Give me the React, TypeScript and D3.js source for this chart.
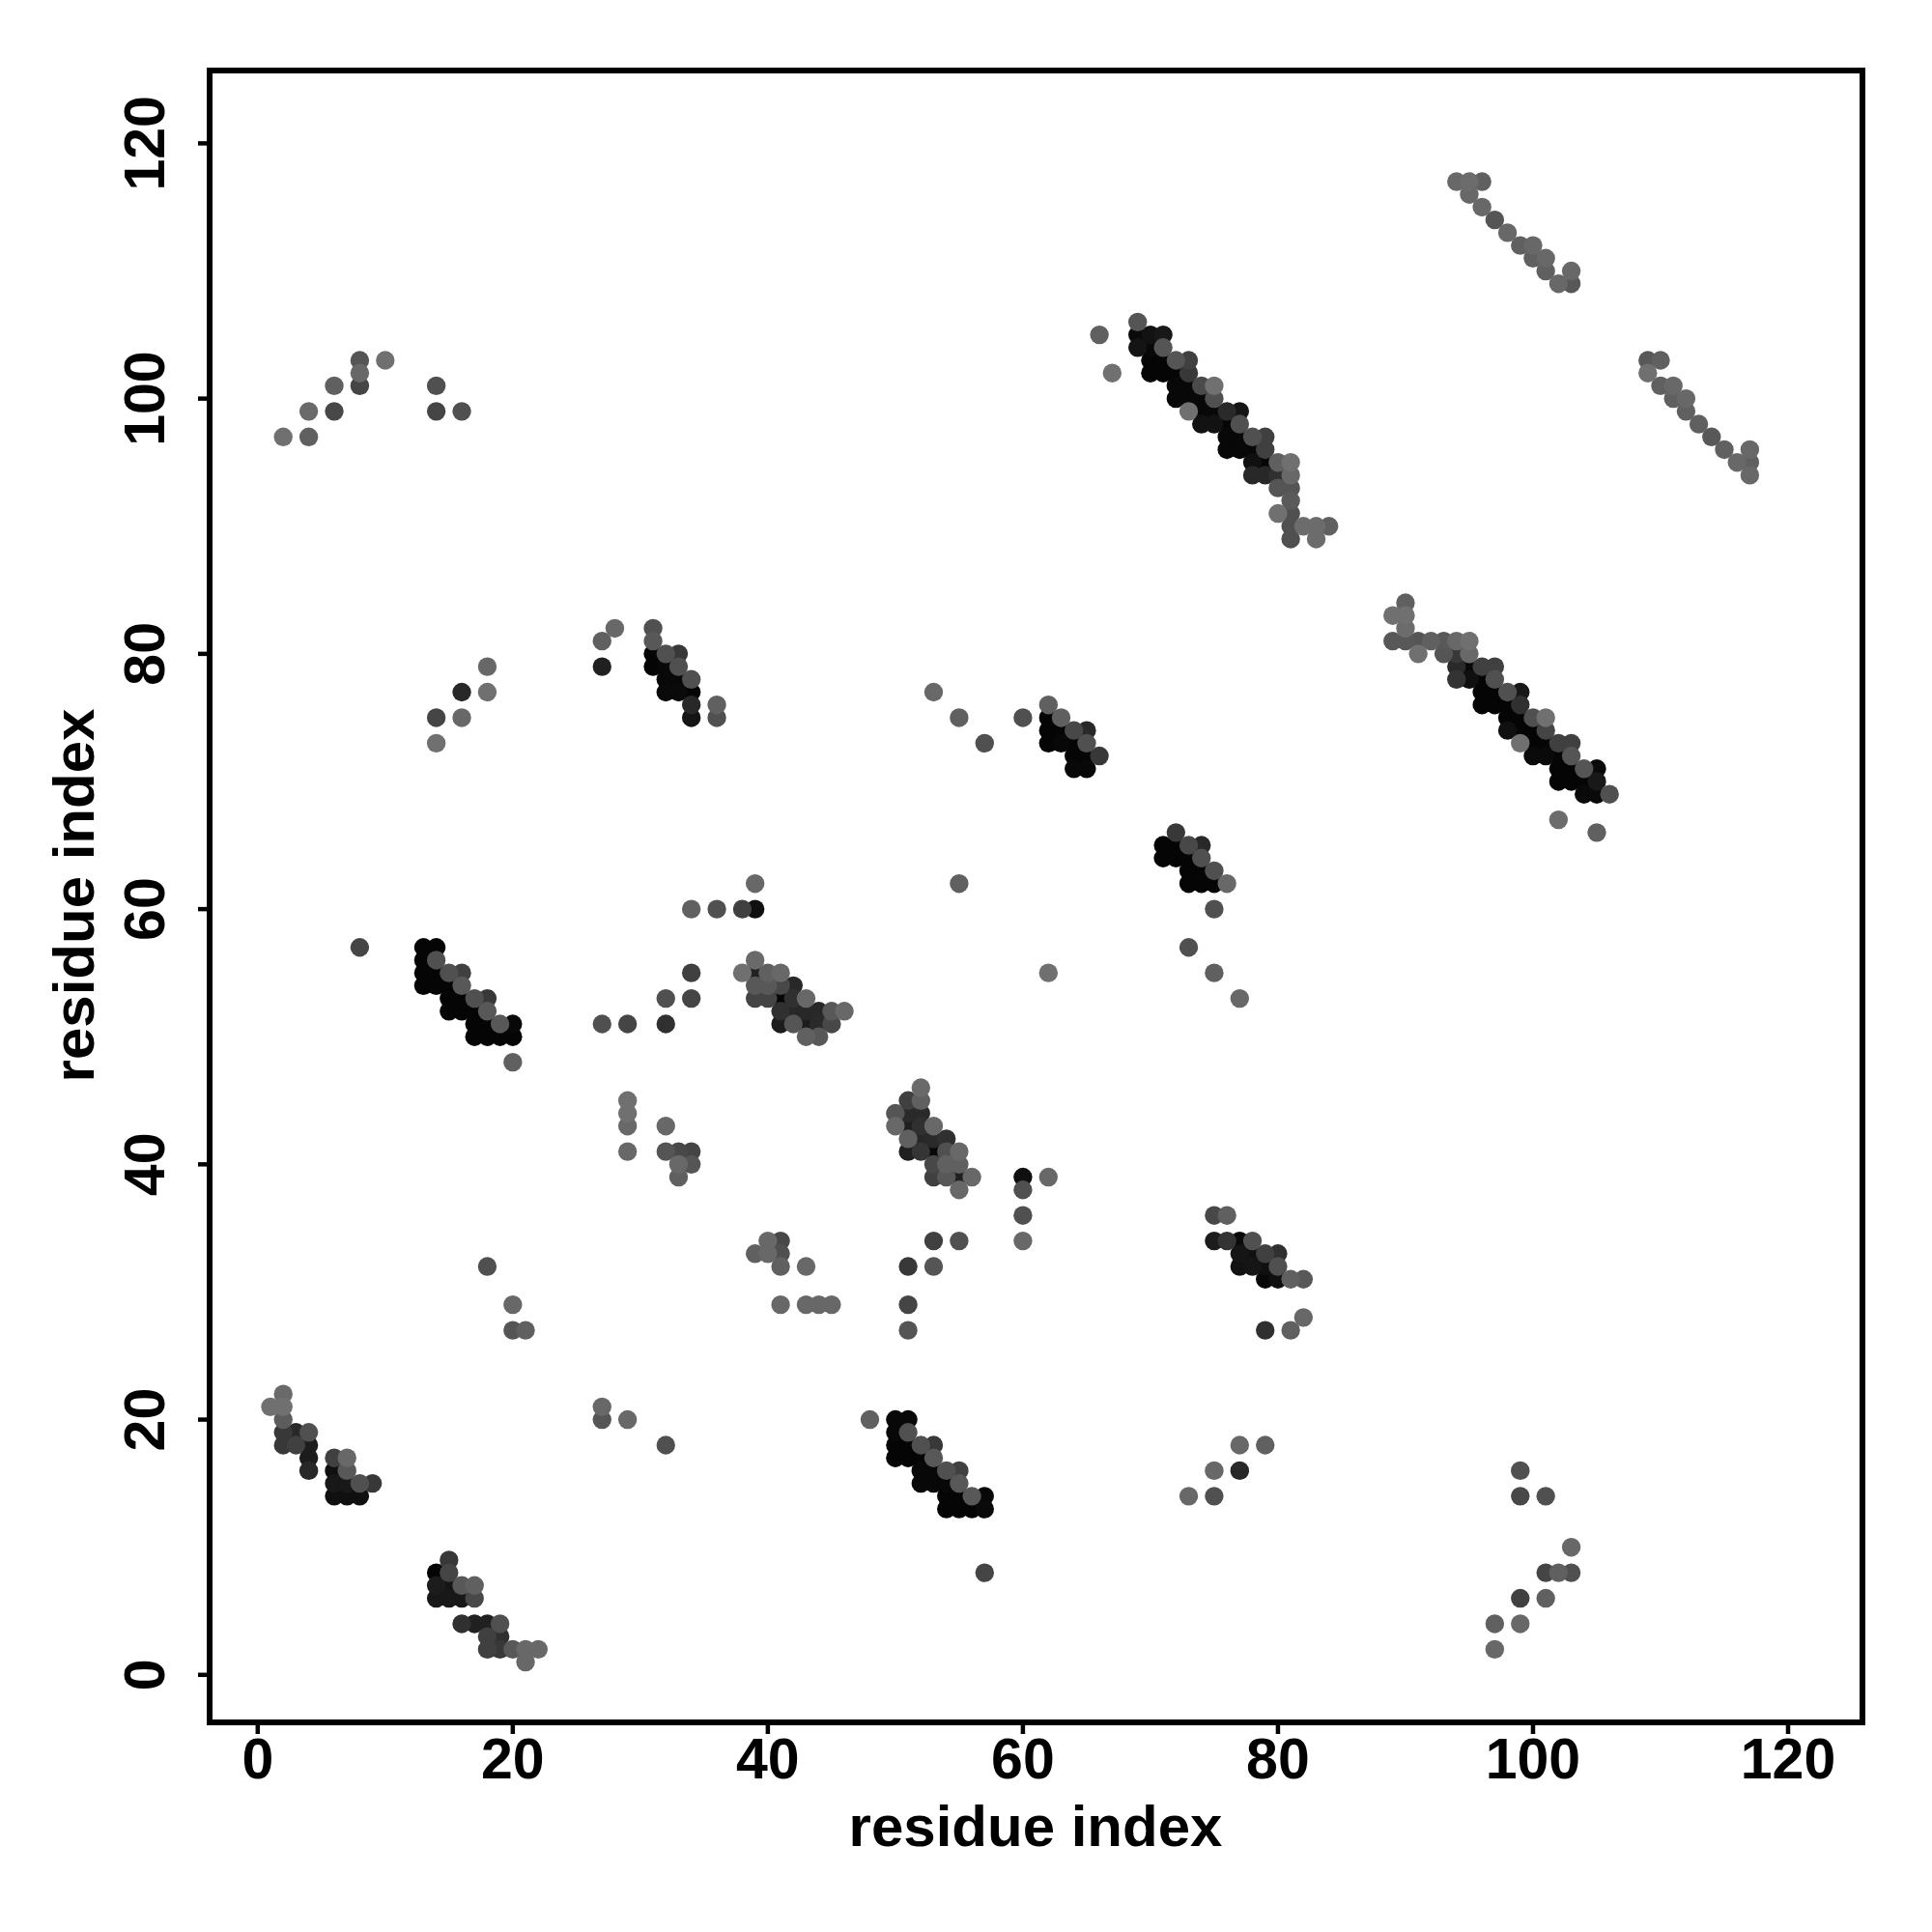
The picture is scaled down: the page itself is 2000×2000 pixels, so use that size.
import React from "react";
import * as d3 from "d3";

type P = [number, number, number];

const xTicks = [0, 20, 40, 60, 80, 100, 120];
const yTicks = [0, 20, 40, 60, 80, 100, 120];
const xTitle = "residue index";
const yTitle = "residue index";

// [residue i, residue j, grey byte]
const helixA: P[] = [
  [69,106,0x55],[66,105,0x60],[67,102,0x70],
  [69,105,0x0a],[70,105,0x12],[71,105,0x18],[69,104,0x14],[70,104,0x08],[71,104,0x55],
  [70,103,0x05],[71,103,0x05],[72,103,0x55],[73,103,0x40],[70,102,0x05],[71,102,0x05],[72,102,0x05],[73,102,0x38],
  [72,101,0x08],[73,101,0x08],[74,101,0x4a],[75,101,0x70],[72,100,0x08],[73,100,0x08],[74,100,0x08],[75,100,0x50],
  [73,99,0x70],[74,99,0x08],[75,99,0x08],[76,99,0x2a],[77,99,0x15],[74,98,0x12],[75,98,0x12],[76,98,0x05],[77,98,0x50],
  [76,97,0x08],[77,97,0x08],[78,97,0x50],[79,97,0x40],[76,96,0x08],[77,96,0x08],[78,96,0x08],[79,96,0x40],
  [78,95,0x10],[79,95,0x05],[80,95,0x60],[81,95,0x70],[78,94,0x28],[79,94,0x28],[80,94,0x30],[81,94,0x68],
  [80,93,0x55],[81,93,0x55],[81,92,0x5a],[80,91,0x70],[81,91,0x50],
  [81,90,0x50],[82,90,0x6c],[83,90,0x6c],[84,90,0x60],[81,89,0x50],[83,89,0x6c],
];
const helixB: P[] = [
  [90,84,0x60],[89,83,0x70],[90,83,0x70],[90,82,0x6c],
  [89,81,0x58],[90,81,0x58],[91,81,0x55],[92,81,0x60],[93,81,0x58],[94,81,0x68],[95,81,0x70],
  [91,80,0x70],[93,80,0x55],[94,80,0x38],[95,80,0x68],
  [94,79,0x2a],[95,79,0x08],[96,79,0x40],[97,79,0x40],[94,78,0x33],[95,78,0x10],[96,78,0x05],[97,78,0x50],
  [96,77,0x05],[97,77,0x05],[98,77,0x50],[99,77,0x18],[96,76,0x05],[97,76,0x05],[98,76,0x05],[99,76,0x30],
  [98,75,0x05],[99,75,0x05],[100,75,0x50],[101,75,0x70],[98,74,0x10],[99,74,0x05],[100,74,0x05],[101,74,0x45],
  [99,73,0x70],[100,73,0x05],[101,73,0x05],[102,73,0x40],[103,73,0x40],[100,72,0x0a],[101,72,0x0a],[102,72,0x05],[103,72,0x55],
  [102,71,0x05],[103,71,0x05],[104,71,0x55],[105,71,0x0a],[102,70,0x05],[103,70,0x05],[104,70,0x05],[105,70,0x18],
  [104,69,0x0a],[105,69,0x0a],[106,69,0x50],[102,67,0x6c],[105,66,0x60],
];
const strandC: P[] = [
  [8,57,0x45],[13,57,0x05],[14,57,0x05],[13,56,0x05],[14,56,0x50],
  [13,55,0x05],[14,55,0x05],[15,55,0x50],[16,55,0x40],[13,54,0x05],[14,54,0x05],[15,54,0x05],[16,54,0x58],
  [15,53,0x05],[16,53,0x05],[17,53,0x50],[18,53,0x38],[15,52,0x05],[16,52,0x05],[17,52,0x05],[18,52,0x58],
  [17,51,0x05],[18,51,0x05],[19,51,0x58],[20,51,0x08],[17,50,0x05],[18,50,0x05],[19,50,0x05],[20,50,0x05],[20,48,0x60],
];
const strandD: P[] = [
  [39,62,0x68],[39,60,0x10],[38,60,0x40],[36,60,0x50],[34,60,0x60],
  [39,56,0x6a],[38,55,0x70],[39,55,0x22],[40,55,0x60],[41,55,0x68],
  [39,54,0x58],[40,54,0x58],[41,54,0x48],[42,54,0x28],[39,53,0x44],[40,53,0x44],[41,53,0x05],[42,53,0x30],[43,53,0x68],
  [41,52,0x30],[42,52,0x28],[43,52,0x28],[44,52,0x28],[45,52,0x58],[46,52,0x68],
  [41,51,0x1c],[42,51,0x55],[43,51,0x1c],[44,51,0x2a],[45,51,0x48],[43,50,0x60],[44,50,0x58],
  [34,55,0x40],[34,53,0x45],[32,53,0x50],[32,51,0x30],[29,51,0x45],[27,51,0x50],
];
const strandE: P[] = [
  [52,46,0x6a],[51,45,0x40],[52,45,0x60],[50,44,0x55],[51,44,0x2a],[52,44,0x2a],
  [50,43,0x68],[51,43,0x20],[52,43,0x30],[53,43,0x68],[51,42,0x60],[52,42,0x28],[53,42,0x2a],[54,42,0x30],
  [51,41,0x20],[52,41,0x35],[53,41,0x08],[54,41,0x50],[55,41,0x68],[53,40,0x48],[54,40,0x60],[55,40,0x60],
  [53,39,0x40],[54,39,0x58],[55,39,0x20],[56,39,0x68],[55,38,0x68],
];
const strandF: P[] = [
  [48,20,0x60],[50,20,0x08],[51,20,0x08],[50,19,0x08],[51,19,0x50],
  [50,18,0x05],[51,18,0x05],[52,18,0x50],[53,18,0x38],[50,17,0x05],[51,17,0x05],[52,17,0x05],[53,17,0x58],
  [52,16,0x08],[53,16,0x08],[54,16,0x50],[55,16,0x40],[52,15,0x08],[53,15,0x08],[54,15,0x08],[55,15,0x58],
  [54,14,0x05],[55,14,0x05],[56,14,0x58],[57,14,0x08],[54,13,0x05],[55,13,0x05],[56,13,0x05],[57,13,0x0a],[57,8,0x45],
];
const strandG: P[] = [
  [31,82,0x50],[31,81,0x58],[31,80,0x05],[32,80,0x50],[33,80,0x38],[31,79,0x05],[32,79,0x08],[33,79,0x50],
  [32,78,0x08],[33,78,0x08],[34,78,0x50],[32,77,0x0a],[33,77,0x0a],[34,77,0x05],[34,76,0x28],[36,76,0x60],[34,75,0x15],[36,75,0x50],
  [27,81,0x60],[28,82,0x68],[27,79,0x20],
];
const strandH: P[] = [
  [62,76,0x60],[62,75,0x05],[63,75,0x60],[62,74,0x05],[63,74,0x05],[64,74,0x48],[65,74,0x28],
  [62,73,0x05],[63,73,0x08],[64,73,0x05],[65,73,0x50],[64,72,0x05],[65,72,0x05],[66,72,0x38],[64,71,0x08],[65,71,0x08],
];
const strandI: P[] = [
  [72,66,0x38],[71,65,0x05],[72,65,0x05],[73,65,0x48],[74,65,0x28],[71,64,0x05],[72,64,0x05],[73,64,0x05],[74,64,0x50],
  [73,63,0x05],[74,63,0x05],[75,63,0x50],[73,62,0x05],[74,62,0x05],[75,62,0x05],[76,62,0x68],[75,60,0x50],
];
const strandJ: P[] = [
  [2,22,0x6a],[1,21,0x70],[2,21,0x70],[2,20,0x5c],[2,19,0x38],[3,19,0x28],[4,19,0x50],[2,18,0x38],[3,18,0x40],[4,18,0x1c],
  [4,17,0x1c],[6,17,0x40],[7,17,0x68],[4,16,0x28],[6,16,0x10],[7,16,0x58],[6,15,0x18],[7,15,0x18],[8,15,0x50],[9,15,0x38],
  [6,14,0x10],[7,14,0x10],[8,14,0x10],
];
const strandK: P[] = [
  [15,9,0x38],[14,8,0x05],[15,8,0x45],[14,7,0x1c],[15,7,0x15],[16,7,0x58],[17,7,0x60],[14,6,0x18],[15,6,0x18],[16,6,0x18],[17,6,0x48],
  [16,4,0x30],[17,4,0x20],[18,4,0x20],[19,4,0x50],[18,3,0x40],[19,3,0x30],[18,2,0x40],[19,2,0x38],[20,2,0x58],[21,2,0x68],[22,2,0x68],[21,1,0x68],
];
const strandL: P[] = [
  [75,36,0x48],[76,36,0x60],[75,34,0x1c],[76,34,0x33],[77,34,0x0a],[78,34,0x50],
  [77,33,0x15],[78,33,0x10],[79,33,0x40],[80,33,0x30],[77,32,0x12],[78,32,0x15],[79,32,0x10],[80,32,0x50],
  [79,31,0x08],[80,31,0x10],[81,31,0x60],[82,31,0x58],[82,28,0x68],[79,27,0x30],[81,27,0x60],
];
const topRight: P[] = [
  [94,117,0x68],[95,117,0x6c],[96,117,0x60],[95,116,0x68],[96,115,0x68],[97,114,0x55],[98,113,0x68],[99,112,0x60],[100,112,0x68],
  [100,111,0x60],[101,111,0x68],[101,110,0x60],[103,110,0x68],[102,109,0x68],[103,109,0x58],
];
const farRight: P[] = [
  [109,103,0x58],[110,103,0x60],[109,102,0x70],[110,101,0x60],[111,101,0x68],[111,100,0x60],[112,100,0x68],[112,99,0x60],
  [113,98,0x60],[114,97,0x58],[115,96,0x60],[116,95,0x68],[117,96,0x68],[117,95,0x60],[117,94,0x68],
];
const scattered: P[] = [
  [2,97,0x70],[4,99,0x6a],[4,97,0x60],[6,99,0x48],[6,101,0x60],[8,103,0x55],[8,102,0x68],[8,101,0x45],[10,103,0x70],
  [14,101,0x50],[14,99,0x45],[16,99,0x50],[14,75,0x45],[14,73,0x70],[16,77,0x28],[16,75,0x68],[18,79,0x68],[18,77,0x70],
  [53,77,0x68],[55,75,0x60],[57,73,0x50],[60,75,0x50],[55,62,0x60],[62,55,0x70],[73,57,0x50],[75,55,0x60],[77,53,0x68],
  [29,45,0x70],[29,44,0x70],[29,43,0x68],[29,41,0x68],[32,43,0x68],[32,41,0x55],[33,41,0x48],[34,41,0x45],[33,40,0x68],[34,40,0x55],[33,39,0x60],
  [60,39,0x10],[62,39,0x68],[60,38,0x50],[60,36,0x50],[60,34,0x68],[51,32,0x38],[53,32,0x55],[53,34,0x40],[55,34,0x50],[51,29,0x45],[51,27,0x55],
  [39,33,0x60],[40,34,0x68],[41,34,0x48],[40,33,0x68],[41,33,0x50],[41,32,0x60],[43,32,0x68],[41,29,0x68],[43,29,0x68],[44,29,0x68],[45,29,0x68],
  [18,32,0x50],[20,29,0x68],[20,27,0x55],[21,27,0x60],[27,21,0x68],[27,20,0x55],[29,20,0x68],[32,18,0x50],
  [73,14,0x68],[75,16,0x68],[75,14,0x50],[77,18,0x68],[77,16,0x28],[79,18,0x60],
  [99,16,0x50],[99,14,0x48],[101,14,0x50],[103,10,0x68],[101,8,0x45],[102,8,0x60],[103,8,0x50],[99,6,0x40],[101,6,0x60],[97,4,0x60],[99,4,0x68],[97,2,0x68],
];

const clusters = [helixA, helixB, strandC, strandD, strandE, strandF, strandG, strandH, strandI, strandJ, strandK, strandL, topRight, farRight, scattered];

const FONT = "'Liberation Sans', Arial, sans-serif";

export default function App() {
  const left = 217, right = 1928, top = 73, bottom = 1783;
  const x = d3.scaleLinear().domain([0, 120]).range([266.8, 1851]);
  const y = d3.scaleLinear().domain([0, 120]).range([1733.8, 148.4]);
  const points = d3.sort(clusters.flat(), (a: P, b: P) => a[2] - b[2]);
  return (
    <svg width={2000} height={2000} style={{ position: "absolute", left: 0, top: 0, background: "#fff" }}>
      <rect width={2000} height={2000} fill="#fff" />
      <g>
        {points.map((p: P, i: number) => (
          <circle key={i} cx={x(p[0])} cy={y(p[1])} r={9.7} fill={d3.rgb(p[2], p[2], p[2]).formatHex()} />
        ))}
      </g>
      <rect x={left} y={top} width={right - left} height={bottom - top} fill="none" stroke="#000" strokeWidth={6} />
      {xTicks.map((t) => (
        <g key={t}>
          <line x1={x(t)} x2={x(t)} y1={bottom} y2={bottom + 12} stroke="#000" strokeWidth={4.5} />
          <text x={x(t)} y={1841} textAnchor="middle" fontFamily={FONT} fontWeight="bold" fontSize={59}>{t}</text>
        </g>
      ))}
      {yTicks.map((t) => (
        <g key={t}>
          <line x1={left - 12} x2={left} y1={y(t)} y2={y(t)} stroke="#000" strokeWidth={4.5} />
          <text transform={`translate(170,${y(t)}) rotate(-90)`} textAnchor="middle" fontFamily={FONT} fontWeight="bold" fontSize={59}>{t}</text>
        </g>
      ))}
      <text x={1072} y={1911} textAnchor="middle" fontFamily={FONT} fontWeight="bold" fontSize={60}>{xTitle}</text>
      <text transform={`translate(97,927) rotate(-90)`} textAnchor="middle" fontFamily={FONT} fontWeight="bold" fontSize={60}>{yTitle}</text>
    </svg>
  );
}
